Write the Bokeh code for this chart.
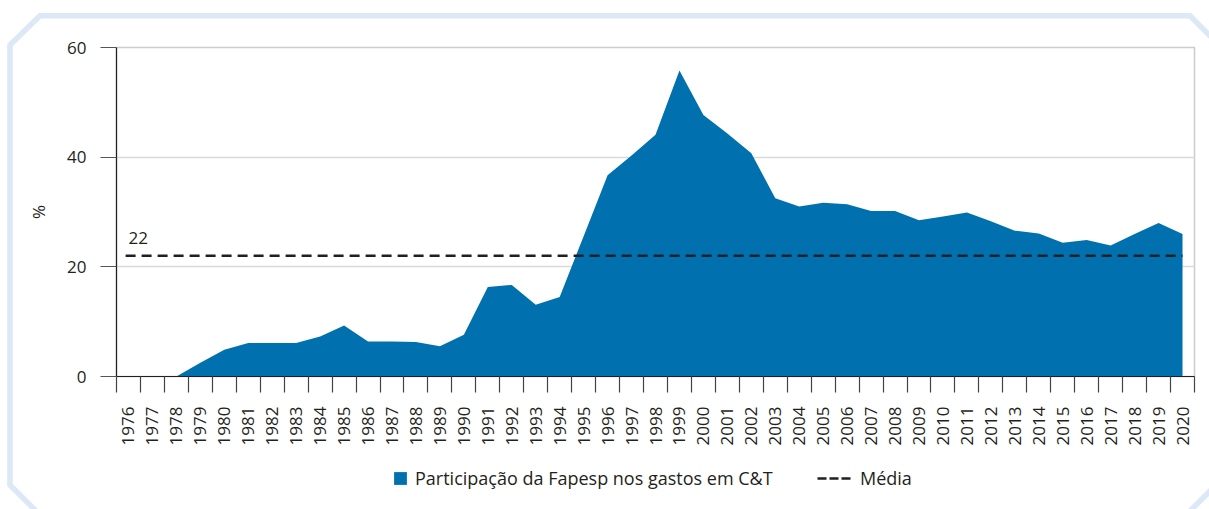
import urllib.parse
import numpy as np
from bokeh.plotting import figure
from bokeh.layouts import column
from bokeh.models import (ColumnDataSource, FixedTicker, Legend, LegendItem, Label)
from bokeh.embed import file_html
from bokeh.resources import INLINE

# ---------------- data ----------------
years = list(range(1976, 2021))
share = [0, 0, 0, 2.5, 4.9, 6.1, 6.1, 6.1, 7.3, 9.3,
         6.4, 6.4, 6.3, 5.5, 7.6, 16.3, 16.7, 13.1, 14.5, 25.6,
         36.7, 40.3, 44.1, 55.8, 47.7, 44.3, 40.7, 32.5, 31.0, 31.7,
         31.4, 30.2, 30.2, 28.5, 29.2, 29.9, 28.3, 26.6, 26.1, 24.4,
         24.9, 23.9, 26.0, 28.0, 26.0]
mean_value = 22
y_ticks = [0, 20, 40, 60]
series_label = "Participação da Fapesp nos gastos em C&T"
mean_label = "Média"

# ---------------- style ----------------
FONT = "Open Sans"
TEXT = "#231f20"
BLUE = "#0071ae"
FRAME_BLUE = "#dce8f5"
TICK_FS = "17px"
LEG_FS = "18px"

n = len(years)
x_centers = [i + 0.5 for i in range(n)]
x_bounds = list(range(n + 1))

src = ColumnDataSource(dict(x=x_centers, share=share))

p = figure(frame_width=1078, frame_height=329,
           output_backend="svg", toolbar_location=None,
           x_range=(0, n), y_range=(0, 60),
           min_border_left=116, min_border_right=15,
           min_border_top=47, min_border_bottom=76,
           background_fill_color="white", border_fill_color=None)

area = p.varea(x="x", y1=0, y2="share", source=src, fill_color=BLUE)
mean_line = p.line(x=[x_centers[0] - 0.12, x_centers[-1]], y=[mean_value, mean_value],
                   line_color=TEXT, line_width=2.5, line_dash="10 6")

p.add_layout(Label(x=x_centers[0], y=mean_value, text=str(mean_value),
                   y_offset=18, text_baseline="alphabetic", text_align="left",
                   text_font=FONT, text_font_size=TICK_FS, text_color=TEXT))

# axes
p.yaxis.ticker = FixedTicker(ticks=y_ticks)
p.yaxis.major_tick_out = 16
p.yaxis.major_tick_in = 0
p.yaxis.minor_tick_out = 0
p.yaxis.minor_tick_in = 0
p.yaxis.axis_line_color = TEXT
p.yaxis.axis_line_width = 1.2
p.yaxis.major_tick_line_color = "#555555"
p.yaxis.major_tick_line_width = 1.2
p.yaxis.major_label_standoff = 14
p.yaxis.major_label_text_font = FONT
p.yaxis.major_label_text_font_size = TICK_FS
p.yaxis.major_label_text_color = TEXT
p.yaxis.axis_label = "%"
p.yaxis.axis_label_text_font = FONT
p.yaxis.axis_label_text_font_size = TICK_FS
p.yaxis.axis_label_text_font_style = "normal"
p.yaxis.axis_label_text_color = TEXT
p.yaxis.axis_label_standoff = 14

p.xaxis.ticker = FixedTicker(ticks=x_centers, minor_ticks=x_bounds)
p.xaxis.major_label_overrides = {c: str(y) for c, y in zip(x_centers, years)}
p.xaxis.major_tick_line_color = None
p.xaxis.major_tick_out = 16
p.xaxis.major_tick_in = 0
p.xaxis.minor_tick_out = 16
p.xaxis.minor_tick_in = 0
p.xaxis.minor_tick_line_color = "#444444"
p.xaxis.minor_tick_line_width = 1.2
p.xaxis.axis_line_color = TEXT
p.xaxis.axis_line_width = 1.2
p.xaxis.major_label_orientation = np.pi / 2
p.xaxis.major_label_standoff = 14
p.xaxis.major_label_text_font = FONT
p.xaxis.major_label_text_font_size = TICK_FS
p.xaxis.major_label_text_color = TEXT

p.xgrid.grid_line_color = None
p.ygrid.ticker = FixedTicker(ticks=y_ticks)
p.ygrid.grid_line_color = "#d9d9d9"
p.ygrid.grid_line_width = 1.5
p.outline_line_color = "#cccccc"
p.outline_line_width = 1.5

# ---------------- legend strip (separate figure below the chart) ----------------
lf = figure(width=1209, height=57, output_backend="svg", toolbar_location=None,
            x_range=(0, 1), y_range=(0, 1), x_axis_location=None, y_axis_location=None,
            min_border_left=0, min_border_right=0, min_border_top=0, min_border_bottom=0,
            background_fill_color=None, border_fill_color=None, outline_line_color=None)
lf.grid.visible = False
# key renderers: placed outside the strip's visible range, only their legend swatches show
key_area = lf.varea(x=[5, 6], y1=[5, 5], y2=[6, 6], fill_color=BLUE)
key_mean = lf.line(x=[5, 6], y=[5, 5], line_color=TEXT, line_width=2.5, line_dash="9 3")

common = dict(orientation="horizontal", padding=0, margin=0,
              border_line_color=None, background_fill_color=None,
              label_text_font=FONT, label_text_font_size=LEG_FS,
              label_text_color=TEXT, glyph_height=16)
leg1 = Legend(items=[LegendItem(label=series_label, renderers=[key_area])],
              location=(276, 19), glyph_width=16, label_standoff=7, **common)
leg2 = Legend(items=[LegendItem(label=mean_label, renderers=[key_mean])],
              location=(701, 19), glyph_width=34, label_standoff=9, **common)
lf.add_layout(leg1)
lf.add_layout(leg2)

# decorative octagonal page frame drawn as CSS background behind both canvases
pts = "10,45 40,15.8 1190,15.8 1220,46 1220,481 1186,515 40,515 10,485"
svg = ('<svg xmlns="http://www.w3.org/2000/svg" width="1209" height="509">'
       f'<polygon points="{pts}" fill="none" stroke="{FRAME_BLUE}" stroke-width="5.5"/></svg>')
uri = "data:image/svg+xml," + urllib.parse.quote(svg)

layout = column(p, lf, spacing=0)
layout.styles = {"background-image": f'url("{uri}")', "background-repeat": "no-repeat",
                 "background-color": "white"}

open("out.html", "w").write(file_html(layout, INLINE))
